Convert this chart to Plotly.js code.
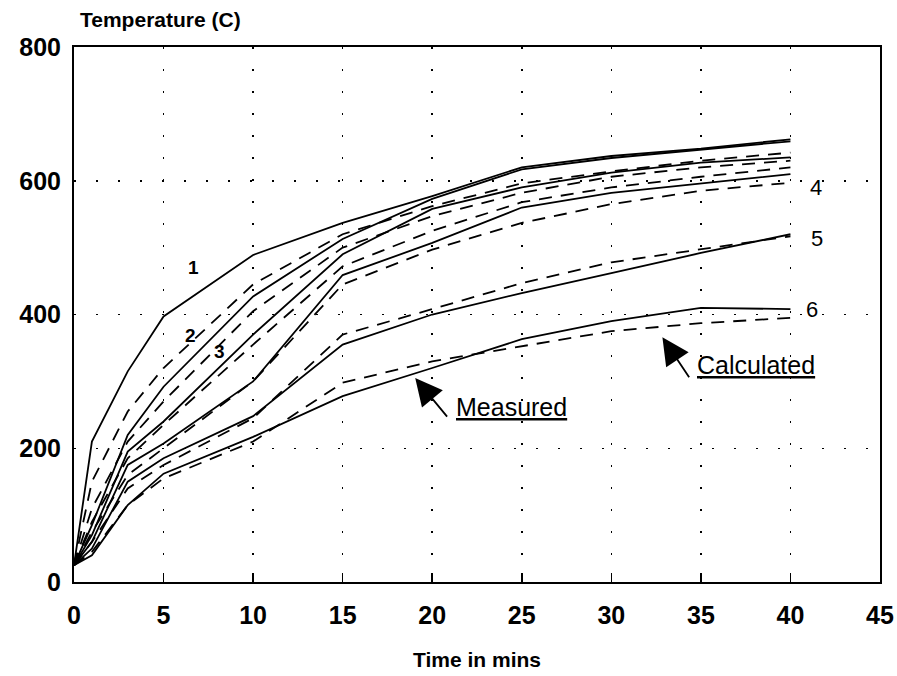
<!DOCTYPE html>
<html>
<head>
<meta charset="utf-8">
<script src="https://cdn.plot.ly/plotly-3.0.1.min.js"></script>
<style>html,body{margin:0;padding:0;background:#fff;}#chart{width:897px;height:676px;}</style>
</head>
<body>
<div id="chart"></div>
<script>
// Time in minutes
const time = [0, 1, 3, 5, 10, 15, 20, 25, 30, 35, 40];

// Measured temperatures (solid lines), curves 1-6
const measured1 = [25, 210, 315, 397, 489, 537, 577, 620, 637, 648, 662];
const measured2 = [25, 85, 220, 292, 427, 513, 573, 617, 634, 646, 659];
const measured3 = [25, 70, 195, 240, 370, 490, 558, 590, 612, 627, 635];
const measured4 = [25, 60, 175, 207, 300, 459, 507, 560, 582, 596, 610];
const measured5 = [25, 50, 150, 185, 248, 355, 400, 432, 462, 492, 520];
const measured6 = [25, 40, 115, 162, 217, 278, 320, 363, 390, 410, 408];

// Calculated temperatures (dashed lines), curves 1-6
const calculated1 = [25, 150, 255, 320, 445, 520, 562, 596, 614, 630, 642];
const calculated2 = [25, 110, 210, 270, 405, 500, 547, 582, 606, 620, 630];
const calculated3 = [25, 90, 185, 235, 355, 472, 525, 568, 590, 606, 620];
const calculated4 = [25, 75, 160, 200, 300, 445, 497, 537, 565, 585, 597];
const calculated5 = [25, 60, 140, 175, 245, 370, 408, 447, 478, 497, 517];
const calculated6 = [25, 45, 115, 155, 210, 298, 330, 353, 375, 387, 395];

const curveLabels = ['1', '2', '3', '4', '5', '6'];

const measuredSets = [measured1, measured2, measured3, measured4, measured5, measured6];
const calculatedSets = [calculated1, calculated2, calculated3, calculated4, calculated5, calculated6];

const traces = [];
measuredSets.forEach((vals, i) => {
  traces.push({
    x: time, y: vals, type: 'scatter', mode: 'lines',
    name: 'Measured ' + curveLabels[i],
    line: {color: '#000', width: 1.8, dash: 'solid'},
    hoverinfo: 'x+y'
  });
});
calculatedSets.forEach((vals, i) => {
  traces.push({
    x: time, y: vals, type: 'scatter', mode: 'lines',
    name: 'Calculated ' + curveLabels[i],
    line: {color: '#000', width: 1.8, dash: '13px,9px'},
    hoverinfo: 'x+y'
  });
});

const font = 'Liberation Sans, Arial, Helvetica, sans-serif';

const annotations = [
  // axis titles
  {text: 'Temperature (C)', xref: 'paper', yref: 'paper', x: 0.005, y: 1.052, xanchor: 'left', yanchor: 'middle',
   showarrow: false, font: {family: font, size: 21, color: '#000', weight: 700}},
  {text: 'Time in mins', xref: 'paper', yref: 'paper', x: 0.5, y: -0.145, xanchor: 'center', yanchor: 'middle',
   showarrow: false, font: {family: font, size: 21, color: '#000', weight: 700}},
  // curve number labels
  {text: '1', x: 6.65, y: 471, showarrow: false, font: {family: font, size: 19, color: '#000', weight: 700}},
  {text: '2', x: 6.5, y: 369, showarrow: false, font: {family: font, size: 19, color: '#000', weight: 700}},
  {text: '3', x: 8.15, y: 344, showarrow: false, font: {family: font, size: 19, color: '#000', weight: 700}},
  {text: '4', x: 41.4, y: 590, showarrow: false, font: {family: font, size: 22, color: '#000'}},
  {text: '5', x: 41.5, y: 514, showarrow: false, font: {family: font, size: 22, color: '#000'}},
  {text: '6', x: 41.2, y: 407, showarrow: false, font: {family: font, size: 22, color: '#000'}},
  // Measured / Calculated text
  {text: '<u>Measured</u>', x: 24.4, y: 262, xanchor: 'center', yanchor: 'middle', showarrow: false,
   font: {family: font, size: 25, color: '#000'}},
  {text: '<u>Calculated</u>', x: 38.1, y: 325, xanchor: 'center', yanchor: 'middle', showarrow: false,
   font: {family: font, size: 25, color: '#000'}},
  // arrows
  {text: '', x: 19.05, y: 305, ax: 20.9, ay: 245, axref: 'x', ayref: 'y', showarrow: true,
   arrowhead: 2, arrowsize: 3, arrowwidth: 1.8, arrowcolor: '#000'},
  {text: '', x: 32.85, y: 366, ax: 34.4, ay: 304, axref: 'x', ayref: 'y', showarrow: true,
   arrowhead: 2, arrowsize: 3, arrowwidth: 1.8, arrowcolor: '#000'}
];

const layout = {
  width: 897, height: 676,
  margin: {l: 74, r: 17, t: 47, b: 94},
  paper_bgcolor: '#fff', plot_bgcolor: '#fff',
  showlegend: false,
  xaxis: {
    range: [0, 45], dtick: 5, tick0: 0,
    showline: true, linecolor: '#000', linewidth: 2, mirror: true,
    showgrid: true, gridcolor: '#000', gridwidth: 1.5, griddash: '2px,20px',
    ticks: 'inside', ticklen: 9, tickwidth: 1.5, tickcolor: '#000',
    zeroline: false,
    tickfont: {family: font, size: 25, color: '#000', weight: 700},
    ticklabelstandoff: 10
  },
  yaxis: {
    range: [0, 800], dtick: 200, tick0: 0,
    showline: true, linecolor: '#000', linewidth: 2, mirror: true,
    showgrid: true, gridcolor: '#000', gridwidth: 1.5, griddash: '2px,20px',
    ticks: '', zeroline: false,
    tickfont: {family: font, size: 25, color: '#000', weight: 700},
    ticklabelstandoff: 6
  },
  annotations: annotations
};

Plotly.newPlot('chart', traces, layout, {displayModeBar: false, staticPlot: true});
</script>
</body>
</html>
